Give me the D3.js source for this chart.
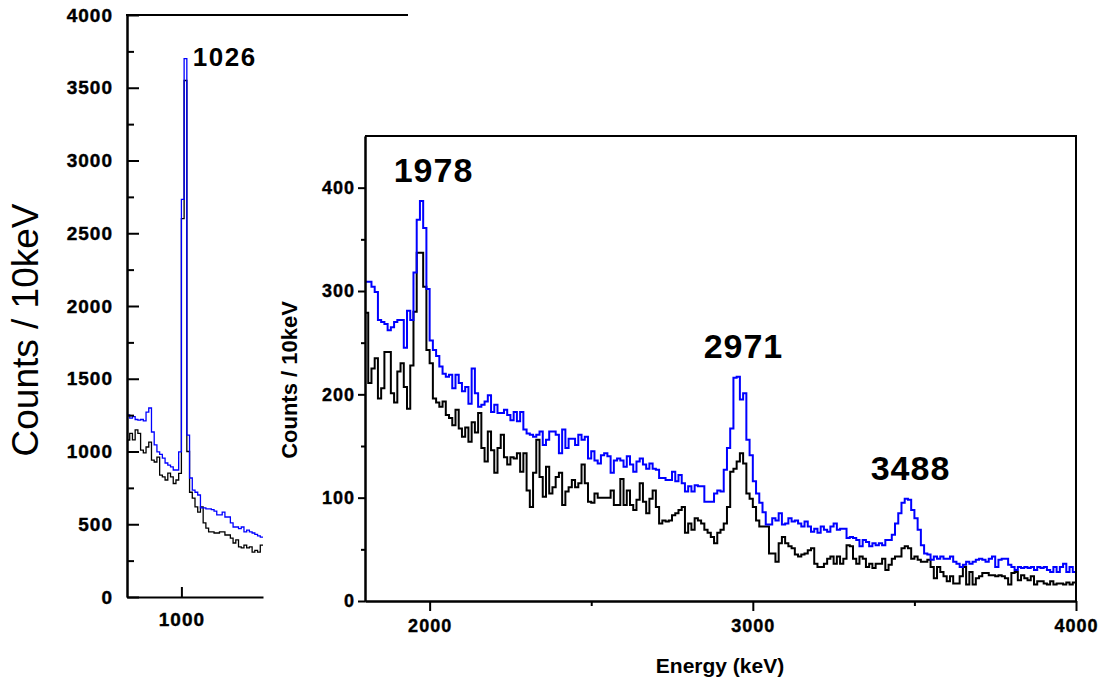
<!DOCTYPE html>
<html>
<head>
<meta charset="utf-8">
<script src="https://cdn.jsdelivr.net/npm/d3@7"></script>
<style>
  html, body { margin: 0; padding: 0; background: #fff; }
  svg { display: block; }
</style>
</head>
<body>
<svg id="chart" width="1100" height="681"></svg>
<script>
// ---- data: counts per 10 keV bin ----
// inset (left), bins start at 800 keV
let insetStart = 800;
let insetBinWidth = 10;
let insetBlue = [1251, 1230, 1240, 1220, 1215, 1220, 1210, 1270, 1299, 1134,
    1045, 997, 980, 955, 921, 907, 894, 873, 873, 997,
    2733, 3700, 1113, 818, 735, 720, 701, 612, 612, 605,
    605, 600, 590, 564, 564, 584, 550, 550, 509, 481,
    481, 470, 481, 447, 460, 447, 440, 430, 420, 412];
let insetBlack = [1079, 1125, 1080, 1148, 1125, 1010, 990, 1031, 1065, 941,
    928, 962, 838, 825, 804, 852, 825, 780, 804, 850,
    2600, 3550, 1000, 720, 680, 619, 584, 619, 509, 474,
    447, 447, 440, 440, 447, 447, 426, 426, 405, 371,
    392, 344, 337, 357, 337, 344, 309, 320, 309, 357];

// main spectrum (right), bins start at 1800 keV
let mainStart = 1800;
let mainBinWidth = 10;
let mainBlue = [309, 309, 304, 299, 272, 270, 268, 262, 265, 270,
    272, 272, 245, 281, 272, 318, 369, 387, 361, 302,
    252, 243, 237, 227, 220, 217, 219, 206, 219, 211,
    203, 207, 191, 225, 201, 188, 190, 193, 199, 183,
    190, 182, 182, 185, 180, 175, 183, 174, 183, 166,
    162, 161, 159, 161, 164, 151, 156, 164, 164, 161,
    143, 166, 148, 157, 157, 151, 161, 156, 159, 138,
    145, 136, 133, 141, 143, 140, 124, 136, 138, 136,
    130, 140, 132, 125, 135, 138, 132, 128, 133, 128,
    127, 119, 119, 117, 117, 125, 116, 122, 114, 106,
    111, 106, 112, 111, 111, 96, 96, 96, 104, 107,
    106, 127, 148, 167, 216, 217, 195, 201, 156, 141,
    116, 104, 95, 86, 74, 74, 80, 78, 85, 74,
    75, 80, 77, 78, 75, 72, 77, 72, 67, 70,
    66, 72, 69, 67, 72, 75, 69, 70, 70, 61,
    62, 61, 59, 53, 59, 57, 53, 56, 54, 56,
    54, 59, 59, 64, 75, 85, 95, 99, 98, 88,
    80, 69, 54, 46, 45, 40, 43, 41, 43, 41,
    41, 43, 38, 36, 33, 35, 38, 36, 38, 40,
    41, 40, 38, 41, 43, 33, 40, 41, 41, 35,
    33, 30, 33, 32, 33, 32, 33, 30, 33, 32,
    33, 30, 28, 33, 28, 33, 36, 28, 33, 28];
let mainBlack = [279, 211, 225, 235, 196, 206, 241, 241, 201, 192,
    222, 230, 207, 186, 228, 280, 337, 337, 304, 243,
    230, 196, 192, 188, 193, 180, 177, 170, 185, 167,
    159, 168, 154, 173, 163, 182, 148, 135, 164, 146,
    124, 148, 161, 139, 132, 139, 138, 143, 125, 143,
    107, 91, 124, 156, 120, 101, 130, 104, 110, 120,
    124, 93, 106, 110, 117, 110, 114, 132, 114, 96,
    95, 104, 100, 100, 100, 100, 107, 93, 93, 118,
    93, 107, 93, 88, 98, 114, 96, 85, 99, 107,
    91, 75, 78, 77, 78, 83, 85, 88, 91, 66,
    75, 69, 80, 78, 75, 69, 66, 62, 56, 66,
    69, 75, 91, 125, 128, 135, 143, 133, 104, 99,
    91, 78, 72, 72, 72, 46, 46, 38, 56, 62,
    56, 53, 51, 45, 43, 45, 46, 49, 51, 36,
    33, 33, 36, 41, 43, 36, 43, 36, 41, 54,
    53, 41, 36, 43, 41, 33, 36, 32, 36, 36,
    41, 30, 35, 41, 43, 43, 51, 53, 51, 41,
    43, 40, 38, 38, 40, 33, 22, 33, 28, 24,
    19, 24, 17, 17, 24, 33, 16, 28, 16, 22,
    24, 27, 27, 25, 25, 24, 25, 24, 22, 16,
    27, 28, 20, 25, 22, 20, 24, 16, 19, 19,
    17, 16, 19, 16, 17, 17, 16, 18, 16, 18];

// axis ticks and labels
let insetYTicks = [0, 500, 1000, 1500, 2000, 2500, 3000, 3500, 4000];
let insetYMinor = [250, 750, 1250, 1750, 2250, 2750, 3250, 3750];
let insetXTicks = [1000];
let mainYTicks = [0, 100, 200, 300, 400];
let mainYMinor = [50, 150, 250, 350];
let mainXTicks = [2000, 3000, 4000];
let mainXMinor = [2500, 3500];
let insetPeak = ["1026"];
let mainPeakEnergy = [1978, 2971, 3488];
let mainPeakLabels = ["1978", "2971", "3488"];

var svg = d3.select("#chart");
let fontFam = "Liberation Sans, Arial, sans-serif";
let plain = d3.format("d");

// scales
let xL = d3.scaleLinear().domain([800, 1300]).range([127, 263]);
let yL = d3.scaleLinear().domain([0, 4000]).range([597, 15]);
let xR = d3.scaleLinear().domain([1800, 4000]).range([365, 1076]);
let yR = d3.scaleLinear().domain([0, 450]).range([601, 136]);

// turn bin values into step points (last bin closed at its upper edge)
function steps(values, start, width) {
    let pts = values.map(function (v, i) {
        return [start + i * width, v];
    });
    pts.push([start + values.length * width, values[values.length - 1]]);
    return pts;
}

function drawSpectrum(values, start, width, x, y, color, lw) {
    let line = d3.line()
        .curve(d3.curveStepAfter)
        .x(function (d) { return x(d[0]); })
        .y(function (d) { return y(d[1]); });
    svg.append("path")
        .datum(steps(values, start, width))
        .attr("fill", "none")
        .attr("stroke", color)
        .attr("stroke-width", lw)
        .attr("d", line);
}

function styleAxis(g, fontSize) {
    g.attr("font-family", fontFam).attr("font-size", fontSize).attr("font-weight", "bold");
    g.select(".domain").attr("stroke", "#000").attr("stroke-width", 2);
    g.selectAll(".tick line").attr("stroke", "#000").attr("stroke-width", 2);
    // slightly heavier digits, like the original plot
    g.selectAll(".tick text")
        .attr("fill", "#000")
        .attr("stroke", "#000")
        .attr("stroke-width", 0.4)
        .attr("letter-spacing", 1);
}

// ---------- inset (left) ----------
drawSpectrum(insetBlack, insetStart, insetBinWidth, xL, yL, "#000", 1.3);
drawSpectrum(insetBlue, insetStart, insetBinWidth, xL, yL, "#0000ff", 1.3);

// minor ticks first, inward
svg.append("g")
    .attr("transform", "translate(" + xL.range()[0] + ",0)")
    .call(d3.axisLeft(yL).tickValues(insetYMinor).tickSizeInner(-7).tickSizeOuter(0).tickFormat(""))
    .call(function (g) { styleAxis(g, 19); });

svg.append("g")
    .attr("transform", "translate(" + xL.range()[0] + ",0)")
    .call(d3.axisLeft(yL).tickValues(insetYTicks).tickSizeInner(-12).tickSizeOuter(0).tickPadding(14).tickFormat(plain))
    .call(function (g) { styleAxis(g, 19); });

svg.append("g")
    .attr("transform", "translate(0," + yL(0) + ")")
    .call(d3.axisBottom(xL).tickValues(insetXTicks).tickSizeInner(-10).tickSizeOuter(0).tickPadding(16).tickFormat(plain))
    .call(function (g) { styleAxis(g, 19); });

// top frame line of the inset
svg.append("line")
    .attr("x1", xL.range()[0] - 1).attr("x2", 408)
    .attr("y1", yL(4000)).attr("y2", yL(4000))
    .attr("stroke", "#000").attr("stroke-width", 2);

// inset peak label, beside the tallest bin
let insetMaxIdx = d3.maxIndex(insetBlue);
svg.append("text")
    .attr("x", xL(insetStart + (insetMaxIdx + 1) * insetBinWidth) + 6)
    .attr("y", yL(insetBlue[insetMaxIdx]) + 7)
    .attr("font-family", fontFam)
    .attr("font-weight", "bold")
    .attr("font-size", 26)
    .attr("letter-spacing", 1.5)
    .text(insetPeak[0]);

// inset y label
svg.append("text")
    .attr("transform", "translate(38,330) rotate(-90)")
    .attr("text-anchor", "middle")
    .attr("font-family", fontFam)
    .attr("font-size", 37)
    .text("Counts / 10keV");

// ---------- main spectrum (right) ----------
drawSpectrum(mainBlack, mainStart, mainBinWidth, xR, yR, "#000", 2);
drawSpectrum(mainBlue, mainStart, mainBinWidth, xR, yR, "#0000ff", 2);

svg.append("g")
    .attr("transform", "translate(" + xR.range()[0] + ",0)")
    .call(d3.axisLeft(yR).tickValues(mainYMinor).tickSizeInner(4).tickSizeOuter(0).tickFormat(""))
    .call(function (g) { styleAxis(g, 18); });

svg.append("g")
    .attr("transform", "translate(" + xR.range()[0] + ",0)")
    .call(d3.axisLeft(yR).tickValues(mainYTicks).tickSizeInner(7).tickSizeOuter(0).tickPadding(3).tickFormat(plain))
    .call(function (g) { styleAxis(g, 18); });

svg.append("g")
    .attr("transform", "translate(0," + yR(0) + ")")
    .call(d3.axisBottom(xR).tickValues(mainXMinor).tickSizeInner(5).tickSizeOuter(0).tickFormat(""))
    .call(function (g) { styleAxis(g, 18); });

svg.append("g")
    .attr("transform", "translate(0," + yR(0) + ")")
    .call(d3.axisBottom(xR).tickValues(mainXTicks).tickSizeInner(10).tickSizeOuter(0).tickPadding(8).tickFormat(plain))
    .call(function (g) { styleAxis(g, 18); });

// top and right frame lines
svg.append("path")
    .attr("d", "M" + xR(1800) + "," + yR(450) + "H" + xR(4000) + "V" + yR(0))
    .attr("fill", "none")
    .attr("stroke", "#000")
    .attr("stroke-width", 2);

// peak labels, placed above the highest bin near each energy
let labelShift = [11, 0, 0];
mainPeakEnergy.forEach(function (e, i) {
    let lo = Math.floor((e - 30 - mainStart) / mainBinWidth);
    let hi = Math.ceil((e + 30 - mainStart) / mainBinWidth);
    let top = d3.max(mainBlue.slice(lo, hi));
    svg.append("text")
        .attr("x", xR(e) + labelShift[i])
        .attr("y", yR(top) - 19)
        .attr("text-anchor", "middle")
        .attr("font-family", fontFam)
        .attr("font-weight", "bold")
        .attr("font-size", 34)
        .attr("letter-spacing", 1)
        .text(mainPeakLabels[i]);
});

// axis titles
svg.append("text")
    .attr("transform", "translate(297,380) rotate(-90)")
    .attr("text-anchor", "middle")
    .attr("font-family", fontFam)
    .attr("font-weight", "bold")
    .attr("font-size", 22)
    .text("Counts / 10keV");

svg.append("text")
    .attr("x", 720)
    .attr("y", 673)
    .attr("text-anchor", "middle")
    .attr("font-family", fontFam)
    .attr("font-weight", "bold")
    .attr("font-size", 21)
    .text("Energy (keV)");
</script>
</body>
</html>
